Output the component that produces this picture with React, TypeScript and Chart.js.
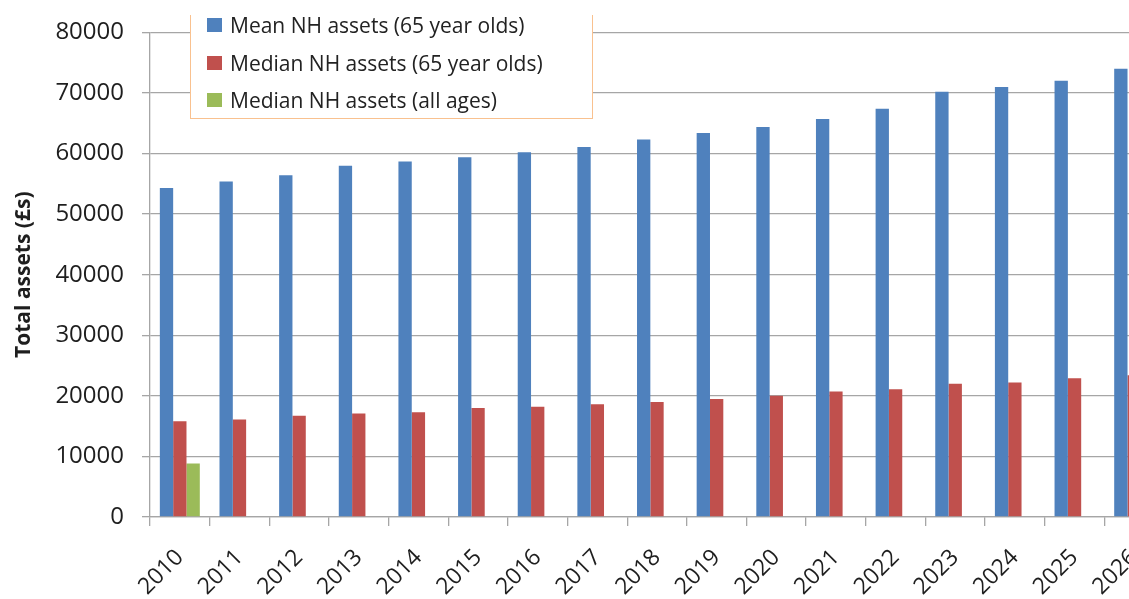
import React, { useEffect, useRef } from "react";
import { Chart, registerables } from "chart.js";

Chart.register(...registerables);

const years = ["2010","2011","2012","2013","2014","2015","2016","2017","2018","2019","2020","2021","2022","2023","2024","2025","2026"];
const meanAssets65 = [54300, 55400, 56400, 58000, 58700, 59400, 60200, 61100, 62300, 63400, 64400, 65700, 67400, 70200, 71000, 72000, 74000];
const medianAssets65 = [15800, 16100, 16700, 17100, 17300, 18000, 18200, 18600, 19000, 19500, 20000, 20700, 21100, 22000, 22200, 22900, 23400];
const medianAllAges = [8850, null, null, null, null, null, null, null, null, null, null, null, null, null, null, null, null];
const seriesLabels = ["Mean NH assets (65 year olds)", "Median NH assets (65 year olds)", "Median NH assets (all ages)"];
const seriesColors = ["#4F81BD", "#C0504D", "#9BBB59"];
const yTicks = [0, 10000, 20000, 30000, 40000, 50000, 60000, 70000, 80000];

const FONT = "'Open Sans', 'DejaVu Sans', sans-serif";
const GRID = "#a6a6a6";

export default function App() {
  const canvasRef = useRef<HTMLCanvasElement | null>(null);

  useEffect(() => {
    const canvas = canvasRef.current;
    if (!canvas) return;
    const chart = new Chart(canvas, {
      type: "bar",
      data: {
        labels: years,
        datasets: [
          { label: seriesLabels[0], data: meanAssets65, backgroundColor: seriesColors[0] },
          { label: seriesLabels[1], data: medianAssets65, backgroundColor: seriesColors[1] },
          { label: seriesLabels[2], data: medianAllAges, backgroundColor: seriesColors[2] },
        ],
      },
      options: {
        responsive: false,
        animation: false,
        layout: { padding: { left: 0, right: 16, top: 31, bottom: 0 } },
        plugins: { legend: { display: false }, tooltip: { enabled: false } },
        datasets: { bar: { categoryPercentage: 0.67, barPercentage: 1 } },
        scales: {
          x: {
            grid: { drawOnChartArea: false, drawTicks: true, tickLength: 9, color: GRID, lineWidth: 1.3 },
            border: { color: GRID, width: 1.3 },
            ticks: { font: { family: FONT, size: 23 }, color: "#1e1e1e", maxRotation: 45, minRotation: 45, autoSkip: false, padding: 18 },
            afterFit: (s: any) => { s.height = 650 - 517; },
          },
          y: {
            min: 0,
            max: 80000,
            afterBuildTicks: (s: any) => { s.ticks = yTicks.map((v) => ({ value: v })); },
            grid: { color: GRID, lineWidth: 1.3, tickLength: 8 },
            border: { color: GRID, width: 1.3 },
            ticks: { font: { family: FONT, size: 24 }, color: "#1e1e1e", padding: 18, callback: (v: any) => String(v) },
            title: { display: true, text: "Total assets (£s)", font: { family: FONT, size: 21, weight: "bold" }, color: "#1e1e1e", padding: { top: 11, bottom: 0 } },
            afterFit: (s: any) => { s.width = 150; },
          },
        },
      } as any,
    });
    return () => chart.destroy();
  }, []);

  return (
    <div style={{ position: "fixed", left: 0, top: 0, width: 1129, height: 599, overflow: "hidden", background: "#fff" }}>
      <canvas ref={canvasRef} width={1180} height={650} style={{ position: "absolute", left: 0, top: 0, width: 1180, height: 650 }} />
      <div style={{ position: "absolute", left: 190, top: 15, width: 403, height: 104, borderLeft: "1.5px solid #F9C18F", borderRight: "1.5px solid #F9C18F", borderBottom: "1.5px solid #F9C18F", background: "#fff", boxSizing: "border-box", fontFamily: FONT, fontSize: 21, color: "#222" }}>
        {seriesLabels.map((lab, i) => (
          <div key={lab} style={{ position: "absolute", left: 0, top: 10 + i * 37.5, transform: "translateY(-50%)", display: "flex", alignItems: "center", whiteSpace: "nowrap" }}>
            <span style={{ display: "inline-block", width: 15, height: 14, marginLeft: 16, marginRight: 8, background: seriesColors[i] }} />
            <span>{lab}</span>
          </div>
        ))}
      </div>
    </div>
  );
}
